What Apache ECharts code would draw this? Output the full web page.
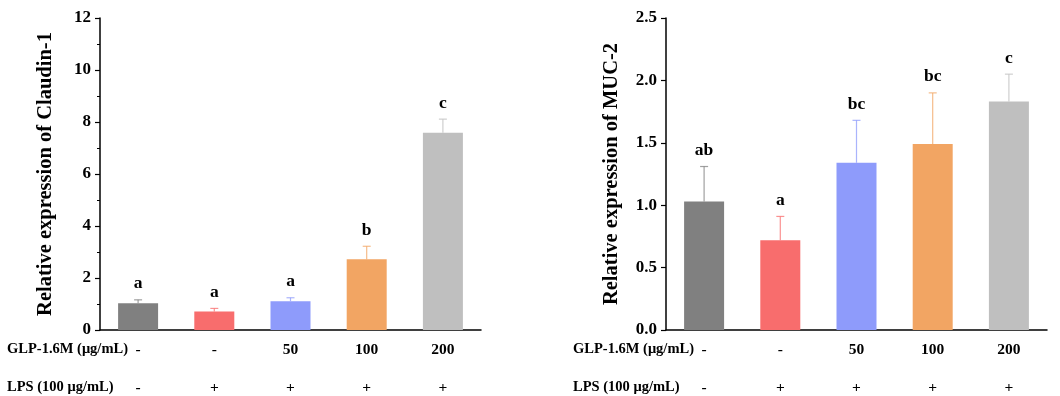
<!DOCTYPE html>
<html>
<head>
<meta charset="utf-8">
<script src="https://cdn.jsdelivr.net/npm/echarts@6/dist/echarts.min.js"></script>
<style>
  html, body { margin: 0; padding: 0; background: #fff; }
  #chart { width: 1060px; height: 396px; }
</style>
</head>
<body>
<div id="chart"></div>
<script>
// data
const glpDose = ['-', '-', '50', '100', '200'];
const lpsDose = ['-', '+', '+', '+', '+'];
const barColors = ['#808080', '#f86d6d', '#8e9bfb', '#f2a563', '#bfbfbf'];

const claudinMean = [1.03, 0.71, 1.11, 2.72, 7.59];
const claudinSd = [0.13, 0.12, 0.13, 0.50, 0.52];
const claudinLetters = ['a', 'a', 'a', 'b', 'c'];

const mucMean = [1.03, 0.72, 1.34, 1.49, 1.83];
const mucSd = [0.28, 0.19, 0.34, 0.41, 0.22];
const mucLetters = ['ab', 'a', 'bc', 'bc', 'c'];

const rowNames = ['GLP-1.6M (\u03bcg/mL)', 'LPS (100 \u03bcg/mL)'];

const FONT = '"Liberation Serif", "Times New Roman", serif';

const chart = echarts.init(document.getElementById('chart'));

const grids = [
  { left: 100, top: 18, width: 381, height: 313 },
  { left: 666, top: 18, width: 381, height: 313 },
];

function xAxes(gi) {
  return [
    {
      type: 'category', gridIndex: gi, data: glpDose,
      axisLine: { lineStyle: { color: '#000', width: 1.5 } },
      axisTick: { alignWithLabel: true, length: 5, lineStyle: { color: '#000', width: 1.2 } },
      axisLabel: { color: '#000', fontFamily: FONT, fontWeight: 'bold', fontSize: 15.5, margin: 12 },
    },
    {
      type: 'category', gridIndex: gi, data: lpsDose, position: 'bottom', offset: 38,
      axisLine: { show: false }, axisTick: { show: false },
      axisLabel: { color: '#000', fontFamily: FONT, fontWeight: 'bold', fontSize: 15.5, margin: 12 },
    },
  ];
}

function yAxis(gi, max, interval, name, minor, digits) {
  return {
    type: 'value', gridIndex: gi, min: 0, max: max, interval: interval,
    name: name, nameLocation: 'middle', nameGap: 44,
    nameTextStyle: { color: '#000', fontFamily: FONT, fontWeight: 'bold', fontSize: 20.5 },
    axisLine: { show: true, lineStyle: { color: '#000', width: 1.5 } },
    axisTick: { show: true, length: 5, lineStyle: { color: '#000', width: 1.2 } },
    minorTick: { show: minor, splitNumber: 2, length: 3, lineStyle: { color: '#000' } },
    splitLine: { show: false },
    axisLabel: {
      color: '#000', fontFamily: FONT, fontWeight: 'bold', fontSize: 17, margin: 9,
      formatter: v => v.toFixed(digits),
    },
  };
}

function errSeries(xi, yi, mean, sd, letters) {
  return {
    type: 'custom', xAxisIndex: xi, yAxisIndex: yi, z: 5,
    data: mean.map((m, i) => [i, m, m + sd[i]]),
    renderItem: (params, api) => {
      const i = api.value(0);
      const p0 = api.coord([i, api.value(1)]);
      const p1 = api.coord([i, api.value(2)]);
      const col = barColors[i];
      return {
        type: 'group',
        children: [
          { type: 'line', shape: { x1: p0[0], y1: p0[1], x2: p1[0], y2: p1[1] },
            style: { stroke: col, lineWidth: 1.2, opacity: 0.75 } },
          { type: 'line', shape: { x1: p1[0] - 4, y1: p1[1], x2: p1[0] + 4, y2: p1[1] },
            style: { stroke: col, lineWidth: 1.2, opacity: 0.75 } },
          { type: 'text', x: p1[0], y: p1[1] - 16,
            style: { text: letters[i], fill: '#000', font: 'bold 17.5px ' + FONT,
                     align: 'center', verticalAlign: 'middle' } },
        ],
      };
    },
  };
}

function barSeries(xi, yi, mean) {
  return {
    type: 'bar', xAxisIndex: xi, yAxisIndex: yi, barWidth: 40,
    data: mean.map((v, i) => ({ value: v, itemStyle: { color: barColors[i] } })),
  };
}

function rowText(x) {
  return rowNames.map((t, k) => ({
    type: 'text', left: x, top: k === 0 ? 342 : 380,
    style: { text: t, fill: '#000', font: 'bold 14.5px ' + FONT },
  }));
}

chart.setOption({
  animation: false,
  grid: grids,
  xAxis: [...xAxes(0), ...xAxes(1)],
  yAxis: [
    yAxis(0, 12, 2, 'Relative expression of Claudin-1', true, 0),
    yAxis(1, 2.5, 0.5, 'Relative expression of MUC-2', false, 1),
  ],
  series: [
    barSeries(0, 0, claudinMean),
    errSeries(0, 0, claudinMean, claudinSd, claudinLetters),
    barSeries(2, 1, mucMean),
    errSeries(2, 1, mucMean, mucSd, mucLetters),
  ],
  graphic: [...rowText(7), ...rowText(573)],
});
</script>
</body>
</html>
